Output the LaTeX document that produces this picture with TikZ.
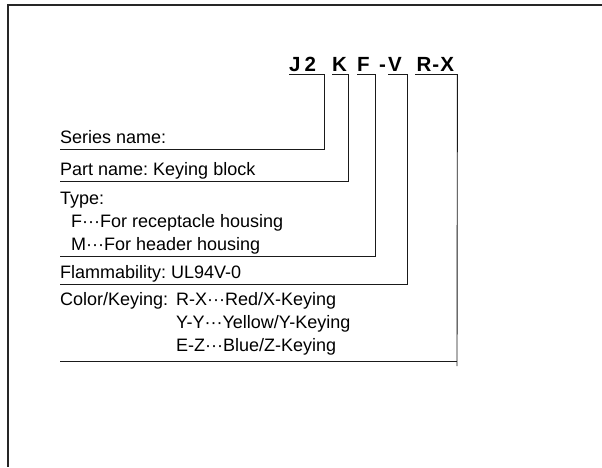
\documentclass[tikz,border=0pt]{standalone}
\usepackage{fontspec}
\setmainfont{Liberation Sans}
\usetikzlibrary{calc}
\definecolor{LeadGray}{HTML}{1A1A1A}
\frenchspacing

\begin{document}
\begin{tikzpicture}[x=1pt,y=-1pt,
    codepart/.style={font=\fontsize{20.5}{22}\selectfont\bfseries,inner xsep=0pt,inner ysep=2.8pt,
                     text depth=0pt,align=left,anchor=south west},
    lbl/.style={font=\fontsize{18}{23}\selectfont,inner sep=0pt,text depth=5.5pt,
                align=left,anchor=south west},
    lead/.style={draw=LeadGray,line width=0.9pt},
    frame/.style={draw=black!85,line width=1.6pt}]
  \useasboundingbox (0,0) rectangle (602,467);
  \draw[frame] (602,5) -- (8,5) -- (8,467);
  % part number
  \node[codepart,text width=35pt] (codeJ) at (289,74.5) {J\hspace{4pt}2};
  \node[codepart,text width=16pt] (codeK) at (332,74.5) {K};
  \node[codepart,text width=18pt] (codeF) at (357,74.5) {F};
  \node[codepart,anchor=base west,inner sep=0pt] (dashV) at (379,71.7) {-};
  \node[codepart,text width=19pt] (codeV) at (388,74.5) {V};
  \node[codepart,text width=42pt] (codeR) at (415,74.5) {\hspace{1.5pt}R\hspace{1pt}-\hspace{1pt}X};
  % explanations
  \node[lbl] (lblSeries) at (60,149) {Series name:};
  \node[lbl] (lblPart) at (60,181) {Part name: Keying block};
  \node[lbl] (lblType) at (60,256) {Type:\\\hspace{11pt}F···For receptacle housing\\\hspace{11pt}M···For header housing};
  \node[lbl] (lblFlam) at (60,284) {Flammability: UL94V-0};
  \node[lbl,text depth=9.5pt] (lblColor) at (60,361)
       {\makebox[116pt][l]{Color/Keying:}R-X···Red/X-Keying\\\hspace{116pt}Y-Y···Yellow/Y-Keying\\\hspace{116pt}E-Z···Blue/Z-Keying};
  \coordinate (endR) at (457,366);
  % leaders
  \draw[lead] (codeJ.south west) -- (codeJ.south east) |- (lblSeries.south west);
  \draw[lead] (codeK.south west) -- (codeK.south east) |- (lblPart.south west);
  \draw[lead] (codeF.south west) -- (codeF.south east) |- (lblType.south west);
  \draw[lead] (codeV.south west) -- (codeV.south east) |- (lblFlam.south west);
  \draw[lead] (codeR.south west) -- (codeR.south east) -- (endR);
  \draw[lead] (lblColor.south west) -- (lblColor.south west -| endR);
\end{tikzpicture}
\end{document}
